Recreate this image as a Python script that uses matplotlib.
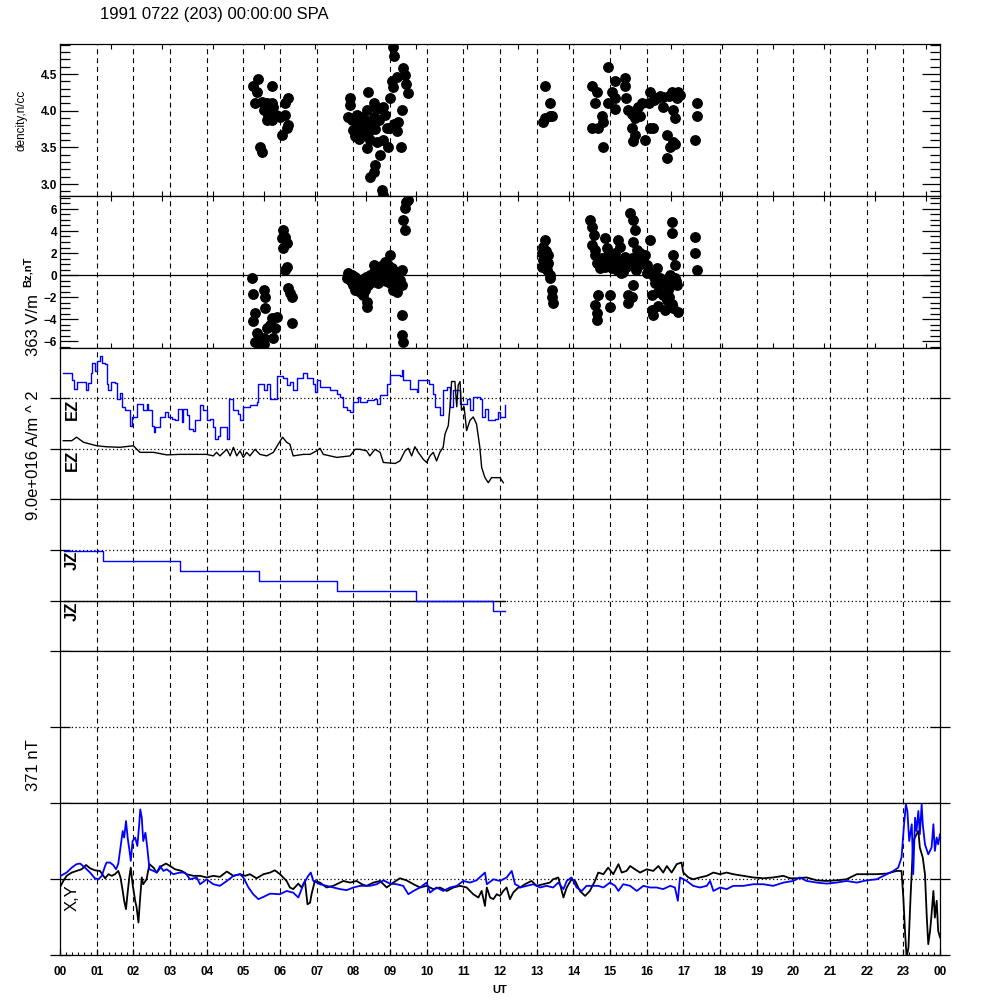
import numpy as np
import matplotlib
matplotlib.use("Agg")
import matplotlib.pyplot as plt
from matplotlib.ticker import MultipleLocator, FormatStrFormatter

plt.rcParams['font.family'] = ['Liberation Sans', 'DejaVu Sans']

# ---- data (hours UT) ----
density_t = [5.41, 5.25, 5.36, 5.77, 5.32, 5.50, 5.64, 5.77, 5.55, 5.68, 5.77, 5.64, 6.00, 6.14,
             6.23, 6.14, 6.23, 6.18, 6.05, 5.45, 5.50, 5.80, 5.89,
             7.91, 7.91, 7.86, 7.95, 8.09, 8.23, 8.32, 8.45, 8.55, 8.36, 8.55, 8.41, 8.64, 8.82,
             8.86, 9.00, 9.05, 9.09, 9.36, 9.41, 9.18, 9.45, 9.50, 9.32, 9.23, 9.00, 8.91, 8.82,
             8.95, 8.64, 8.45, 8.36, 8.73, 8.59, 8.55, 8.45, 8.77, 8.82, 9.29, 8.23, 8.05, 8.00,
             8.14, 9.07, 9.12,
             8.00, 8.10, 8.20, 8.30, 8.40, 8.50, 8.60, 8.70, 9.10, 9.20, 8.15,
             13.23, 13.35, 13.36, 13.23, 13.18, 13.43, 14.95, 15.14, 15.41, 15.41, 14.50, 14.65,
             15.05, 15.14, 14.59, 14.95, 15.45, 15.14, 14.77, 14.82, 14.50, 14.68, 14.82, 15.50,
             15.68, 15.68, 15.82, 15.59, 15.68, 15.64, 15.95, 15.86, 16.05, 16.09, 16.27, 16.45,
             16.68, 16.82, 16.86, 16.45, 16.73, 16.77, 16.09, 16.18, 16.55, 16.73, 16.64, 16.77,
             16.55, 17.36, 17.36, 17.32,
             15.60, 15.75, 16.20, 16.35, 16.60, 16.90]
density_v = [4.43, 4.34, 4.25, 4.34, 4.10, 4.12, 4.10, 4.10, 4.01, 3.94, 3.87, 3.87, 3.92, 3.94,
             4.17, 4.10, 3.80, 3.76, 3.67, 3.51, 3.44, 4.05, 3.94,
             4.17, 4.08, 3.92, 3.87, 3.94, 3.83, 3.87, 3.83, 3.92, 4.01, 4.10, 4.26, 4.03, 4.05,
             3.94, 4.17, 4.40, 4.33, 4.58, 4.49, 4.46, 4.37, 4.24, 4.01, 3.85, 3.76, 3.76, 3.60,
             3.51, 3.58, 3.60, 3.49, 3.40, 3.26, 3.17, 3.10, 2.92, 2.85, 3.51, 3.65, 3.65, 3.74,
             3.74, 4.87, 4.75,
             3.90, 3.85, 3.92, 3.78, 3.70, 3.80, 3.75, 3.88, 3.82, 3.72, 3.62,
             4.34, 4.10, 3.93, 3.90, 3.84, 3.93, 4.59, 4.40, 4.45, 4.34, 4.34, 4.25,
             4.25, 4.17, 4.10, 4.10, 4.18, 4.02, 3.93, 3.84, 3.76, 3.76, 3.51, 4.01,
             3.99, 3.90, 3.93, 3.76, 3.67, 3.59, 3.60, 4.10, 4.10, 4.26, 4.17, 4.19,
             4.26, 4.17, 4.26, 4.05, 4.01, 3.90, 3.76, 3.76, 3.67, 3.58, 3.51, 3.55,
             3.35, 4.10, 3.93, 3.60,
             3.95, 4.05, 4.15, 4.20, 4.20, 4.22]

bz_t = [5.23, 5.25, 5.55, 5.59, 5.59, 5.32, 5.27, 5.36, 5.32, 5.45, 5.55, 5.64, 5.77, 5.91, 5.86,
        5.82, 5.73, 6.09, 6.14, 6.05, 6.09, 6.18, 6.18, 6.14, 6.23, 6.27, 6.32, 6.32, 5.55,
        7.86, 7.91, 8.00, 8.05, 8.14, 8.23, 8.27, 8.36, 8.36, 8.45, 8.55, 8.64, 8.73, 8.86, 9.00,
        8.91, 9.00, 9.09, 9.18, 9.32, 9.32, 9.18, 8.82, 8.50, 9.32, 9.32, 9.36, 9.41, 9.36, 9.41,
        9.45, 9.50, 7.82, 7.95, 8.09, 8.18, 8.32, 8.41, 8.59, 8.68, 8.77, 8.95, 9.05, 9.14, 9.23,
        9.27,
        7.95, 8.05, 8.15, 8.25, 8.35, 8.45, 8.55, 8.65, 8.75, 8.85, 8.95, 9.05, 9.15, 9.25, 8.90,
        9.10,
        13.23, 13.18, 13.14, 13.18, 13.14, 13.27, 13.36, 13.36, 13.41, 13.41, 13.45, 13.27, 13.32,
        14.45, 14.50, 14.55, 14.50, 14.59, 14.64, 14.77, 14.73, 14.86, 14.91, 15.00, 14.86, 15.14,
        15.23, 15.27, 15.32, 15.18, 15.45, 15.55, 15.64, 15.68, 15.64, 15.59, 15.73, 15.82, 15.91,
        16.00, 16.09, 16.14, 16.27, 16.36, 16.50, 16.68, 16.77, 16.82, 16.59, 16.45, 16.55, 16.73,
        16.86, 16.50, 16.14, 16.14, 16.18, 15.64, 15.50, 15.50, 15.00, 15.00, 14.68, 14.59, 14.64,
        14.64, 16.68, 16.68, 16.73, 16.77, 17.32, 17.32, 17.36, 15.09, 15.36, 15.77, 15.95, 16.23,
        16.32, 16.64,
        14.60, 14.70, 14.80, 14.95, 15.05, 15.20, 15.30, 15.40, 15.55, 15.70, 15.85, 16.00, 16.20,
        16.40, 16.55, 16.65, 16.80, 16.60, 16.70, 16.30, 15.60, 13.20, 13.25, 13.30]
bz_v = [-0.30, -1.76, -1.36, -1.97, -2.97, -3.48, -4.18, -5.30, -6.06, -6.36, -5.76, -4.85, -3.94,
        -3.79, -4.85, -5.76, -4.55, 4.09, 3.48, 3.33, 2.42, 2.88, 0.76, 0.45, -1.21, -1.67, -1.97,
        -4.39, -6.30,
        0.15, -0.45, -0.91, -1.36, -0.61, -1.06, -1.82, -2.42, -2.88, 0.00, 0.91, 0.30, 0.45, 1.21,
        1.82, -0.15, -0.76, -1.36, -0.30, 0.45, -0.91, -1.52, -0.30, -0.61, -3.64, -5.45, -6.06,
        4.09, 5.00, 6.06, 6.67, 6.82, -0.30, 0.00, -1.21, -1.52, -1.36, -0.91, -0.30, -0.76, 0.00,
        0.45, 0.00, -0.91, 0.15, -0.45,
        -0.60, -0.20, -1.00, -0.40, -0.20, -0.50, 0.30, -0.20, 0.80, 0.40, 0.90, 0.60, 0.30, -0.70,
        -0.50, -0.80,
        3.18, 2.58, 1.97, 1.36, 0.76, 0.45, 0.00, -0.30, -1.36, -1.97, -2.58, 0.91, 1.82,
        5.00, 4.39, 3.64, 2.73, 1.82, 1.06, 1.52, 0.61, 3.33, 2.42, 1.21, 0.76, 1.97,
        3.18, 2.58, 1.36, 0.45, 0.76, 5.61, 5.00, 4.09, 3.03, 1.52, 2.27, 1.97, 1.36,
        0.91, 3.18, 0.30, 0.61, -0.30, -0.61, -0.76, -0.30, -0.91, -1.36, -1.82, -2.27, -3.03,
        -3.33, -3.18, -1.82, -3.18, -3.64, -0.91, -1.82, -2.58, -1.82, -2.88, -1.82, -2.73, -3.48,
        -4.09, 4.85, 3.79, 1.82, 0.91, 3.48, 1.97, 0.45, 1.52, 0.30, 1.21, 1.82, -0.76,
        -1.52, 0.00,
        2.30, 1.40, 0.90, 1.80, 0.60, 1.00, 0.20, 1.60, 0.90, 0.50, 1.00, 0.20, -0.20,
        -0.80, -0.40, -1.00, -0.50, -2.00, -2.60, -2.80, -2.00, 1.50, 2.20, 1.10]

# EZ traces, offset units (one division per dotted line)
ez_blue_t = [0.09, 0.32, 0.38, 0.47, 0.71, 0.75, 0.84, 0.87, 0.95, 1.00, 1.09, 1.14, 1.23, 1.27,
             1.32, 1.38, 1.50, 1.55, 1.64, 1.68, 1.77, 1.86, 1.91, 1.95, 2.05, 2.09, 2.23, 2.27,
             2.36, 2.41, 2.50, 2.55, 2.59, 2.68, 2.73, 2.86, 2.95, 3.05, 3.14, 3.23, 3.32, 3.36,
             3.45, 3.53, 3.62, 3.68, 3.82, 3.91, 4.00, 4.09, 4.18, 4.23, 4.32, 4.36, 4.45, 4.55,
             4.62, 4.73, 4.86, 4.91, 5.00, 5.18, 5.36, 5.41, 5.55, 5.64, 5.73, 5.82, 5.91, 6.09,
             6.18, 6.27, 6.36, 6.45, 6.64, 6.73, 6.91, 6.95, 7.00, 7.09, 7.36, 7.55, 7.64, 7.73,
             7.82, 7.91, 8.00, 8.14, 8.18, 8.36, 8.55, 8.64, 8.73, 8.91, 9.00, 9.27, 9.32, 9.36,
             9.55, 9.73, 9.77, 10.05, 10.18, 10.23, 10.36, 10.45, 10.55, 10.64, 10.73, 10.91,
             11.09, 11.18, 11.27, 11.45, 11.50, 11.59, 11.68, 11.86, 11.95, 12.00, 12.09, 12.14]
ez_blue_v = [2.49, 2.36, 2.19, 2.33, 2.17, 2.31, 2.49, 2.69, 2.53, 2.73, 2.83, 2.69, 2.68, 2.29,
             2.16, 2.33, 2.31, 1.99, 2.11, 1.83, 1.76, 1.76, 1.46, 1.63, 1.63, 1.89, 1.89, 1.76,
             1.89, 1.76, 1.46, 1.33, 1.43, 1.43, 1.63, 1.73, 1.63, 1.59, 1.56, 1.79, 1.53, 1.79,
             1.66, 1.39, 1.36, 1.56, 1.86, 1.76, 1.56, 1.59, 1.43, 1.19, 1.26, 1.43, 1.43, 1.19,
             1.99, 1.76, 1.69, 1.56, 1.83, 1.86, 1.93, 2.29, 2.16, 2.29, 1.99, 1.99, 2.43, 2.39,
             2.26, 2.33, 2.16, 2.39, 2.49, 2.39, 2.29, 2.13, 2.36, 2.23, 2.16, 2.09, 2.03, 1.83,
             1.76, 1.73, 1.93, 2.03, 1.93, 1.96, 1.99, 1.89, 2.06, 2.29, 2.46, 2.43, 2.56, 2.36,
             2.19, 2.13, 2.36, 2.29, 2.09, 1.83, 1.66, 2.16, 2.23, 1.83, 2.16, 1.89,
             1.99, 1.76, 2.03, 1.99, 1.63, 1.79, 1.56, 1.59, 1.73, 1.63, 1.63, 1.86]

ez_black_t = [0.09, 0.32, 0.45, 0.64, 1.00, 1.27, 1.64, 2.00, 2.18, 2.55, 2.91, 3.27, 3.64, 4.00,
              4.18, 4.27, 4.36, 4.55, 4.64, 4.73, 4.82, 4.91, 5.00, 5.09, 5.18, 5.32, 5.45, 5.64,
              5.82, 5.95, 6.07, 6.18, 6.27, 6.36, 6.64, 6.82, 7.00, 7.09, 7.18, 7.55, 7.91, 8.05,
              8.18, 8.36, 8.45, 8.59, 8.73, 8.82, 9.14, 9.27, 9.41, 9.50, 9.59, 9.68, 9.77, 9.91,
              10.00, 10.09, 10.18, 10.27, 10.36, 10.45, 10.50, 10.59, 10.64, 10.68, 10.77, 10.82,
              10.86, 10.91, 10.95, 11.02, 11.09, 11.18, 11.27, 11.36, 11.45, 11.50, 11.59, 11.68,
              11.77, 12.00, 12.09]
ez_black_v = [1.16, 1.16, 1.23, 1.13, 1.06, 1.04, 1.03, 1.06, 0.93, 0.93, 0.88, 0.89, 0.89, 0.89,
              0.86, 0.93, 0.86, 0.99, 0.86, 1.03, 0.86, 0.96, 0.83, 0.93, 0.86, 0.99, 0.89, 0.86,
              0.93, 1.09, 1.23, 1.13, 1.09, 0.86, 0.89, 0.89, 0.96, 1.01, 0.89, 0.83, 0.86, 0.99,
              0.99, 0.96, 0.86, 0.99, 0.93, 0.73, 0.71, 0.76, 0.96, 1.01, 0.86, 1.04, 0.93, 0.79,
              0.73, 0.86, 0.93, 0.76, 0.93, 1.03, 1.29, 1.46, 1.86, 2.33, 2.33, 1.83,
              2.26, 2.33, 1.76, 1.83, 1.36, 1.56, 1.63, 1.49, 1.03, 0.63, 0.43, 0.33,
              0.43, 0.43, 0.33]

jz_blue_t = [0.11, 1.16, 3.28, 5.44, 7.56, 9.71, 11.82, 12.14]
jz_blue_v = [1.98, 1.78, 1.58, 1.38, 1.18, 0.99, 0.79, 0.79]
jz_black_t = [0.11, 12.14]
jz_black_v = [1.0, 1.0]

# magnetometer X (black) and Y (blue), nT
mag_x_t = [0.02, 0.09, 0.18, 0.32, 0.45, 0.59, 0.71, 0.82, 0.95, 1.09, 1.23, 1.32, 1.41, 1.50, 1.59,
           1.65, 1.71, 1.75, 1.80, 1.84, 1.89, 1.93, 1.98, 2.05, 2.09, 2.14, 2.18, 2.23, 2.27, 2.36,
           2.44, 2.55, 2.64, 2.77, 2.89, 3.00, 3.14, 3.32, 3.45, 3.64, 3.82, 4.00, 4.18, 4.36, 4.55,
           4.73, 4.91, 5.05, 5.18, 5.36, 5.55, 5.73, 5.86, 6.00, 6.18, 6.27, 6.36, 6.50, 6.59, 6.68,
           6.75, 6.82, 6.86, 6.95, 7.09, 7.27, 7.45, 7.73, 7.91, 8.09, 8.23, 8.36, 8.55, 8.73, 8.91,
           9.09, 9.27, 9.45, 9.64, 9.82, 10.00, 10.18, 10.36, 10.55, 10.73, 10.91, 11.09, 11.27,
           11.41, 11.50, 11.59, 11.64, 11.73, 11.82, 11.91, 12.00, 12.09, 12.18, 12.27, 12.36, 12.50,
           12.55, 12.68, 12.86, 13.00, 13.18, 13.36, 13.45, 13.59, 13.73, 13.82, 13.95, 14.05, 14.18,
           14.32, 14.45, 14.59, 14.68, 14.82, 14.95, 15.09, 15.23, 15.32, 15.45, 15.55, 15.68, 15.82,
           16.00, 16.18, 16.32, 16.45, 16.55, 16.68, 16.82, 16.95, 17.00, 17.14, 17.27, 17.45, 17.64,
           17.82, 18.00, 18.18, 18.36, 18.64, 18.91, 19.18, 19.45, 19.73, 19.91, 20.09, 20.36, 20.64,
           20.91, 21.18, 21.45, 21.73, 22.00, 22.27, 22.55, 22.82, 22.95, 23.00, 23.05, 23.09, 23.14,
           23.20, 23.27, 23.36, 23.41, 23.45, 23.53, 23.59, 23.64, 23.68, 23.73, 23.77, 23.82, 23.86,
           23.91, 23.95, 24.00]
mag_x_v = [-34, -10, 15, 31, 39, 47, 68, 52, 42, 39, 3, 23, 15, 23, 39,
           7, -59, -107, -148, -75, 7, 55, -26, -107, -140, -213, -107, 7, -26, -2,
           72, 55, 31, 63, 75, 63, 47, 39, 23, 15, 15, 7, 15, 10, 36,
           15, 23, 15, 23, 3, 23, 31, 42, 23, -10, -42, -50, -23, -42, -10,
           -124, -116, -75, -10, -18, -42, -34, -10, -18, -10, -26, -34, -18, -10, -42,
           -18, 3, -7, -26, -42, -34, -50, -42, -59, -42, -34, -42, -75,
           -91, -59, -132, -42, -91, -99, -75, -83, -59, -42, -99, -67, -42,
           -42, -26, -10, -34, -26, -18, -2, 7, -91, -42, -2, -10, -59,
           -83, -59, -10, 31, 23, 55, 23, 72, 31, 39, 63, 47, 31,
           47, 39, 63, 31, 63, 31, 72, 80, 31, 7, -2, 7, 15,
           31, 23, 31, 23, 15, 7, 3, 7, 15, 3, 3, 7, -7,
           -10, -7, -2, 23, 23, 23, 26, 39, 39, -91, -270, -384, -335,
           -75, 185, 218, 234, 153, 104, 23, -189, -319, -254, -172, -59, -189,
           -107, -254, -286]

mag_y_t = [0.02, 0.18, 0.32, 0.45, 0.55, 0.68, 0.82, 0.95, 1.05, 1.14, 1.23, 1.27, 1.36, 1.45, 1.53,
           1.59, 1.65, 1.71, 1.75, 1.80, 1.85, 1.89, 1.93, 1.98, 2.05, 2.11, 2.16, 2.19, 2.23, 2.27,
           2.33, 2.38, 2.44, 2.55, 2.64, 2.73, 2.82, 2.91, 3.09, 3.27, 3.41, 3.55, 3.73, 3.82, 4.00,
           4.18, 4.36, 4.55, 4.73, 4.91, 5.00, 5.14, 5.27, 5.41, 5.55, 5.73, 6.00, 6.18, 6.36, 6.50,
           6.64, 6.77, 6.84, 6.91, 7.09, 7.27, 7.45, 7.64, 7.82, 8.00, 8.18, 8.45, 8.64, 8.82, 9.00,
           9.18, 9.36, 9.50, 9.64, 9.82, 10.00, 10.09, 10.27, 10.45, 10.64, 10.82, 11.00, 11.18,
           11.36, 11.59, 11.64, 11.82, 12.00, 12.18, 12.32, 12.41, 12.50,
           12.55, 12.73, 12.91, 13.09, 13.27, 13.45, 13.59, 13.73, 13.82, 13.95, 14.09, 14.23, 14.36,
           14.50, 14.68, 14.82, 15.00, 15.14, 15.23, 15.36, 15.55, 15.73, 15.91, 16.09, 16.27, 16.45,
           16.64, 16.77, 16.85, 16.91, 17.09, 17.27, 17.45, 17.64, 17.73, 17.82, 18.00, 18.18, 18.36,
           18.64, 18.91, 19.18, 19.45, 19.73, 20.00, 20.18, 20.36, 20.64, 20.91, 21.18, 21.45, 21.73,
           22.00, 22.27, 22.55, 22.73, 22.86, 22.95, 23.02, 23.07, 23.11, 23.16, 23.23, 23.27, 23.32,
           23.36, 23.41, 23.45, 23.50, 23.53, 23.59, 23.68, 23.77, 23.82, 23.86, 23.91, 23.95, 24.00]
mag_y_v = [15, 31, 55, 72, 75, 55, 31, 3, -2, 15, 63, 80, 80, 68, 47,
           75, 153, 234, 202, 283, 194, 145, 88, 185, 202, 161, 267, 340, 299, 185,
           226, 153, 47, 39, 31, 63, 39, 47, 23, 31, 31, -2, 7, -26, -2,
           -26, -34, -10, 15, 23, 7, -42, -75, -99, -88, -72, -75, -59, -67, -91,
           -26, 15, 31, -10, -26, -34, -42, -50, -55, -42, -34, -34, -26, -7, -23,
           -26, -34, -75, -59, -42, -18, -67, -42, -59, -42, -34, -10, -18,
           -7, 31, -26, -2, -10, 7, 39, -26, -34,
           -42, -34, -26, -42, -34, -42, -18, -50, -10, 7, -42, -59, -34,
           -34, -34, -42, -18, -34, -59, -26, -34, -59, -34, -42, -42, -50,
           -34, -42, -107, 7, -10, -34, -42, -34, -10, -59, -42, -50, -34,
           -34, -26, -26, -34, -18, -10, 7, -10, -18, -23, -18, -10, -18,
           -7, -2, 23, 39, 55, 104, 267, 364, 332, 185, 267, 23, 299,
           234, 332, 218, 364, 267, 169, 120, 153, 267, 137, 202, 169, 218]

hour_labels = ['%02d' % (h % 24) for h in range(25)]
title = '1991 0722 (203) 00:00:00 SPA'

# ---- figure ----
fig = plt.figure(figsize=(10, 10), dpi=100)
top_px, panel_px = 44, 151.8
axes = []
for i in range(6):
    bottom = 1 - (top_px + panel_px * (i + 1)) / 1000
    ax = fig.add_axes([0.06, bottom, 0.88, panel_px / 1000])
    ax.set_xlim(0, 24)
    for s in ax.spines.values():
        s.set_linewidth(0.9)
    for h in range(1, 24):
        ax.axvline(h, color='k', ls=(0, (4.5, 3.5)), lw=0.8, zorder=1)
    axes.append(ax)

dot = (0, (1, 2))
tick_font = dict(fontsize=8.5, fontweight='bold')

# panel 1 - density
ax = axes[0]
ax.plot(density_t, density_v, 'o', color='k', ms=6.8, zorder=3)
ax.set_ylim(2.84, 4.91)
ax.set_yticks([3.0, 3.5, 4.0, 4.5])
ax.yaxis.set_minor_locator(MultipleLocator(0.1))
ax.yaxis.set_major_formatter(FormatStrFormatter('%.1f'))

# panel 2 - Bz
ax = axes[1]
ax.axhline(0, color='k', lw=0.9, zorder=2)
ax.plot(bz_t, bz_v, 'o', color='k', ms=6.8, zorder=3)
ax.set_ylim(-6.6, 7.2)
ax.set_yticks([-6, -4, -2, 0, 2, 4, 6])
ax.yaxis.set_minor_locator(MultipleLocator(0.5))

for ax in axes[:2]:
    ax.tick_params(axis='y', which='both', direction='in', left=True, right=True, pad=2)
    ax.tick_params(axis='y', which='major', length=13, width=0.9)
    ax.tick_params(axis='y', which='minor', length=7, width=0.9)
    ax.set_xticks(np.arange(0, 24, 5000 / 3600))
    ax.tick_params(axis='x', direction='in', top=True, bottom=True, length=3.5, labelbottom=False)
    for lab in ax.get_yticklabels():
        lab.set_fontsize(8.5)
        lab.set_fontweight('bold')

# panel 3 - EZ
ax = axes[2]
ax.plot(ez_blue_t, ez_blue_v, color='#0000ff', lw=1.0, drawstyle='steps-post', zorder=3)
ax.plot(ez_black_t, ez_black_v, color='k', lw=1.0, zorder=4)
ax.set_ylim(0, 3)
ax.set_yticks([0, 1, 2])
for lev in [1, 2]:
    ax.axhline(lev, color='k', ls=dot, lw=0.9, zorder=2)
    ax.text(0.0136, lev - 0.02, 'EZ', transform=ax.get_yaxis_transform(), rotation=90,
            ha='center', va='top', fontsize=12, fontweight='bold')

# panel 4 - JZ
ax = axes[3]
ax.plot(jz_black_t, jz_black_v, color='k', lw=1.0, zorder=3)
ax.plot(jz_blue_t, jz_blue_v, color='#0000ff', lw=1.0, drawstyle='steps-post', zorder=4)
ax.set_ylim(0, 3)
ax.set_yticks([0, 1, 2])
for lev in [1, 2]:
    ax.axhline(lev, color='k', ls=dot, lw=0.9, zorder=2)
    ax.text(0.0136, lev - 0.02, 'JZ', transform=ax.get_yaxis_transform(), rotation=90,
            ha='center', va='top', fontsize=12, fontweight='bold')

# panel 5 - empty
ax = axes[4]
ax.set_ylim(-1, 1)
ax.set_yticks([-1, 0])
ax.axhline(0, color='k', ls=dot, lw=0.9, zorder=2)

# panel 6 - X,Y magnetometer
ax = axes[5]
ax.plot(mag_x_t, mag_x_v, color='k', lw=1.3, zorder=3)
ax.plot(mag_y_t, mag_y_v, color='#0000ff', lw=1.3, zorder=4)
ax.set_ylim(-371, 371)
ax.set_yticks([-371, 0])
ax.axhline(0, color='k', ls=dot, lw=0.9, zorder=2)
ax.text(0.0136, -25, 'X,Y', transform=ax.get_yaxis_transform(), rotation=90,
        ha='center', va='top', fontsize=12)

for ax in axes[2:]:
    ax.tick_params(axis='y', which='major', direction='inout', left=True, right=True,
                   length=14, width=0.9, labelleft=False)

for ax in axes[2:5]:
    ax.set_xticks([])

ax = axes[5]
ax.set_xticks(range(25))
ax.set_xticklabels(hour_labels, **tick_font)
ax.xaxis.set_minor_locator(MultipleLocator(1 / 6))
ax.tick_params(axis='x', which='major', direction='in', length=4, width=0.9, pad=8)
ax.tick_params(axis='x', which='minor', direction='in', length=2.5, width=0.8)
ax.set_xlabel('UT', fontsize=8, fontweight='bold', labelpad=5)

# labels
fig.text(0.100, 0.985, title, fontsize=12, ha='left', va='center')
fig.text(0.022, 0.880, 'dencity,n/cc', fontsize=8.5, rotation=90, ha='center', va='center')
fig.text(0.028, 0.728, 'Bz,nT', fontsize=8, fontweight='bold', rotation=90, ha='center', va='center')
fig.text(0.034, 0.675, '363 V/m', fontsize=12, rotation=90, ha='center', va='center')
fig.text(0.034, 0.545, '9.0e+016 A/m ^ 2', fontsize=12, rotation=90, ha='center', va='center')
fig.text(0.034, 0.235, '371 nT', fontsize=12, rotation=90, ha='center', va='center')

fig.savefig('out.png', dpi=100, facecolor='white')
